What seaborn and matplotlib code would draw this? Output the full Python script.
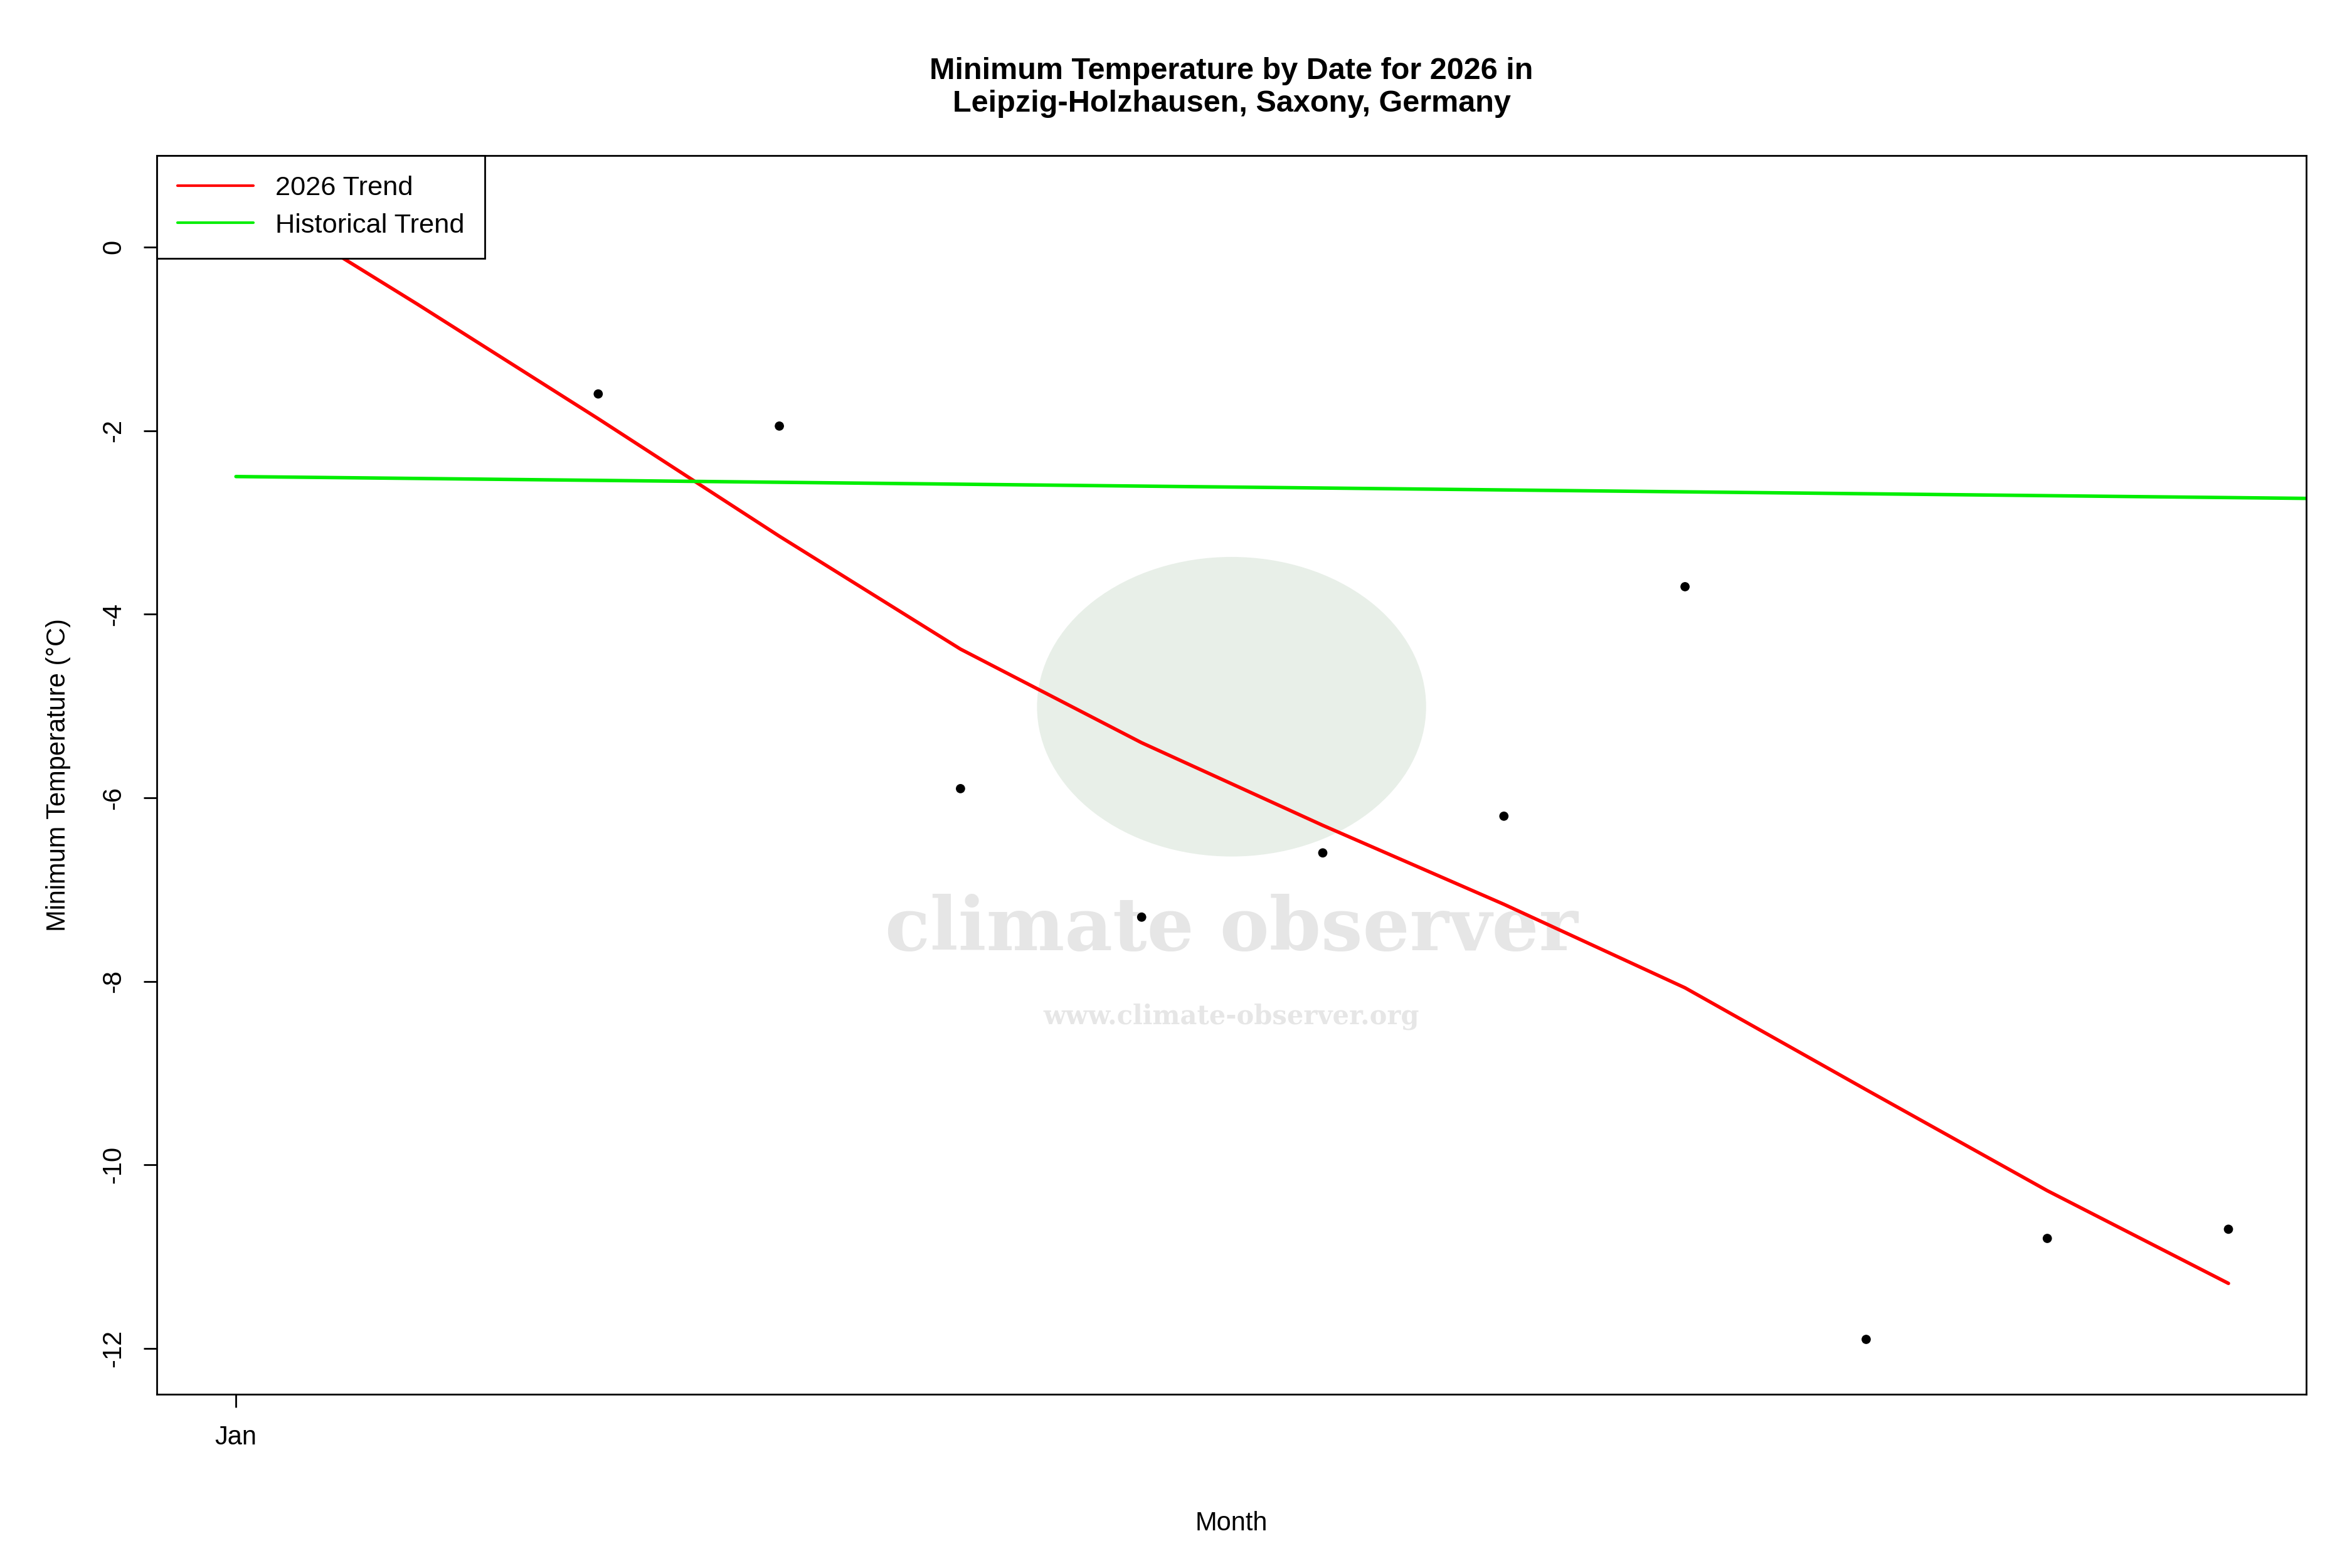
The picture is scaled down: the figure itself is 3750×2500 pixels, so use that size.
import matplotlib
matplotlib.use("Agg")
import matplotlib.pyplot as plt
import seaborn as sns
from matplotlib.patches import Ellipse

sns.set_style("white")
plt.rcParams['font.family'] = ['Liberation Sans', 'DejaVu Sans']
plt.rcParams['text.color'] = 'black'
plt.rcParams['axes.labelcolor'] = 'black'
plt.rcParams['xtick.color'] = 'black'
plt.rcParams['ytick.color'] = 'black'

point_days = [3, 4, 5, 6, 7, 8, 9, 10, 11, 12]
point_vals = [-1.6, -1.95, -5.9, -7.3, -6.6, -6.2, -3.7, -11.9, -10.8, -10.7]
trend_days = [1, 2, 3, 4, 5, 6, 7, 8, 9, 10, 11, 12]
trend_vals = [0.6, -0.62, -1.87, -3.15, -4.38, -5.4, -6.3, -7.16, -8.07, -9.18, -10.28, -11.29]
hist_days = [1, 13]
hist_vals = [-2.5, -2.75]
tick_pos = [1]
tick_labels = ["Jan"]

fig = plt.figure(figsize=(15, 10), dpi=250)
ax = fig.add_axes([103/1545, 1-916/1030, (1515-103)/1545, (916-102)/1030])

# watermark
ax.add_patch(Ellipse((0.5, 0.555), 0.18, 0.24, transform=ax.transAxes, color="#e8efe8", zorder=0))
ax.text(0.5, 0.375, "climate observer", transform=ax.transAxes, ha="center", va="center",
        fontsize=34, fontweight="bold", color="#e6e6e6", family="DejaVu Serif", zorder=0)
ax.text(0.5, 0.305, "www.climate-observer.org", transform=ax.transAxes, ha="center", va="center",
        fontsize=12, fontweight="bold", color="#e6e6e6", family="DejaVu Serif", zorder=0)

sns.lineplot(x=trend_days, y=trend_vals, ax=ax, color="red", lw=1.6, label="2026 Trend")
sns.lineplot(x=hist_days, y=hist_vals, ax=ax, color="#00ee00", lw=1.6, label="Historical Trend")
sns.scatterplot(x=point_days, y=point_vals, ax=ax, color="black", s=18, edgecolor="none", zorder=3)

ax.set_xlim(0.563, 12.43)
ax.set_ylim(-12.5, 1.0)
ax.set_xticks(tick_pos)
ax.set_xticklabels(tick_labels)
ax.set_yticks([0, -2, -4, -6, -8, -10, -12])
ax.set_yticklabels(["0", "-2", "-4", "-6", "-8", "-10", "-12"], rotation=90, va="center")
ax.tick_params(axis="both", length=6, width=0.8, labelsize=12, direction="out", bottom=True, left=True, pad=8)
for s in ax.spines.values():
    s.set_color("black"); s.set_linewidth(0.8)
ax.set_xlabel("Month", fontsize=12, labelpad=28)
ax.set_ylabel("Minimum Temperature (°C)", fontsize=12, labelpad=14)
ax.set_title("Minimum Temperature by Date for 2026 in\nLeipzig-Holzhausen, Saxony, Germany",
             fontsize=14, fontweight="bold", pad=20)
leg = ax.legend(loc="upper left", fontsize=12.5, frameon=True, fancybox=False, borderaxespad=0,
                handlelength=2.8, borderpad=0.75, framealpha=1, labelspacing=0.45)
leg.get_frame().set_edgecolor("black"); leg.get_frame().set_linewidth(0.8)
for l in leg.get_lines():
    l.set_linewidth(1.2)
leg.set_zorder(10)

fig.savefig("out.png", dpi=250)
